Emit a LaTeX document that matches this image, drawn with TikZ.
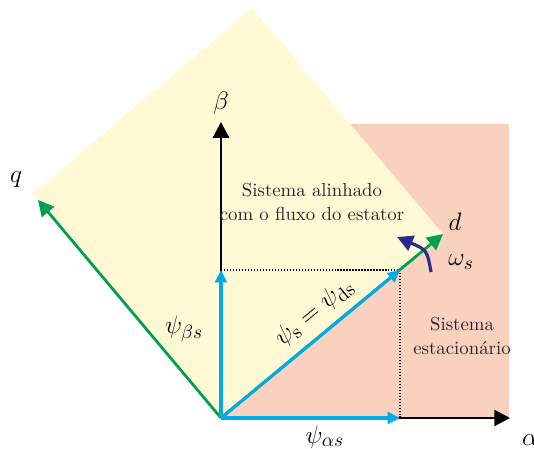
\documentclass[tikz,border=0pt]{standalone}
\usepackage{amsmath}
\usetikzlibrary{arrows.meta}

\definecolor{estpink}{RGB}{250,208,190}
\definecolor{alinyellow}{RGB}{255,249,214}
\definecolor{dqgreen}{RGB}{0,160,80}
\definecolor{fluxblue}{RGB}{0,170,230}
\definecolor{omegablue}{RGB}{40,45,140}

\begin{document}
\begin{tikzpicture}[scale=0.02,
    axis/.style={line width=1.6pt, -{Triangle[length=9pt,width=9pt]}},
    dqaxis/.style={axis, draw=dqgreen, fill=dqgreen},
    flux/.style={line width=1.8pt, draw=fluxblue, -{Triangle[length=7pt,width=6.5pt]}},
    proj/.style={densely dotted, line width=0.7pt},
    lbl/.style={font=\fontsize{15}{17}\selectfont},
    txt/.style={font=\fontsize{10.7}{13.6}\selectfont, align=center, text=black!85}]
    \useasboundingbox (-221,-30) rectangle (313,418);

    % frames
    \coordinate (O) at (0,0);
    \coordinate (A) at (289,0);
    \coordinate (B) at (0,296);
    \coordinate (D) at (222,184);
    \coordinate (Q) at (-183,218);
    \coordinate (Pa) at (179,0);
    \coordinate (Pb) at (0,148);
    \coordinate (P) at (179,148);

    \fill[estpink] (O) rectangle (288,294);
    \fill[alinyellow] (O) -- (D) -- (31,410) -- (-189,224) -- cycle;

    \draw[proj] (Pb) -- (P) -- (Pa);

    \draw[axis] (O) -- (A);
    \draw[axis] (O) -- (B);
    \draw[dqaxis] (O) -- (D);
    \draw[dqaxis] (O) -- (Q);

    % flux vectors
    \draw[flux] (O) -- node[lbl, below=0pt, pos=0.58] {$\psi_{\alpha s}$} (Pa);
    \draw[flux] (O) -- node[lbl, left=6pt, pos=0.6] {$\psi_{\beta s}$} (Pb);
    \draw[flux] (O) -- node[lbl, sloped, above=2pt, pos=0.6] {$\psi_{\mathrm{s}}=\psi_{\mathrm{ds}}$} (P);

    \coordinate (W1) at (210,146);
    \coordinate (W2) at (176,181);
    \draw[line width=1.8pt, omegablue, -{Triangle[length=9pt,width=9pt]}] (W1) .. controls (206,168) .. (W2);

    \node[lbl] at (309,-22) {$\alpha$};
    \node[lbl] at (0,315) {$\beta$};
    \node[lbl] at (234,196) {$d$};
    \node[lbl] at (-205,238) {$q$};
    \node[lbl] at (240,156) {$\omega_s$};

    \node[txt] at (91,216) {Sistema alinhado\\com o fluxo do estator};
    \node[txt] at (241,82) {Sistema\\estacion\'ario};
\end{tikzpicture}
\end{document}
